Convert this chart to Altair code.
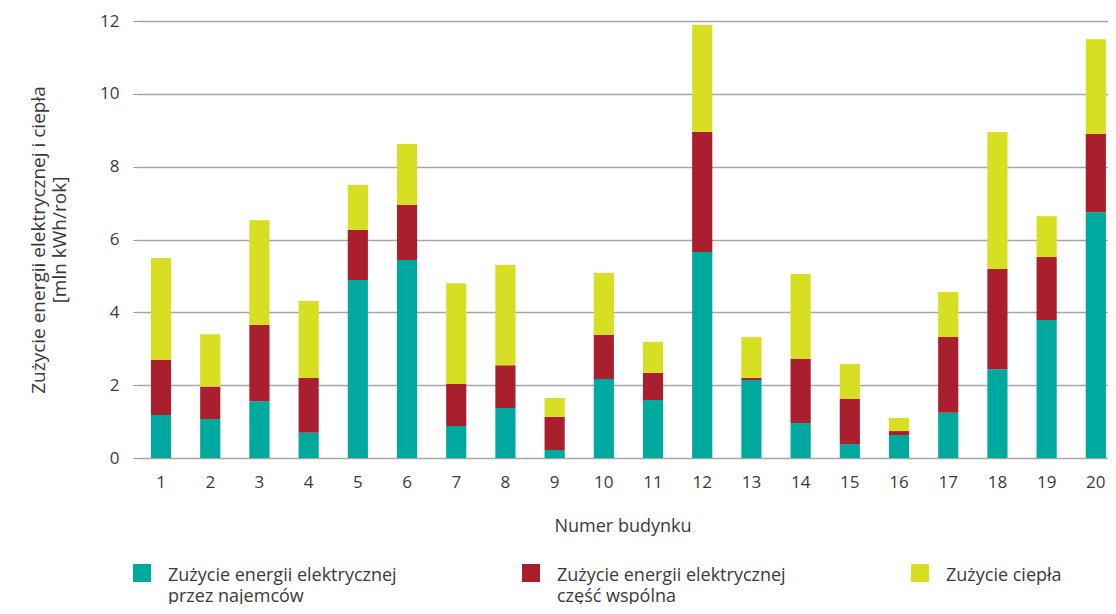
import altair as alt
import pandas as pd

buildings = list(range(1, 21))
tenants = [1.18, 1.07, 1.56, 0.69, 4.89, 5.44, 0.88, 1.37, 0.22, 2.17,
           1.59, 5.66, 2.14, 0.96, 0.38, 0.63, 1.24, 2.44, 3.79, 6.75]
common = [1.51, 0.89, 2.09, 1.51, 1.37, 1.51, 1.15, 1.18, 0.91, 1.21,
          0.75, 3.29, 0.06, 1.76, 1.24, 0.11, 2.08, 2.75, 1.73, 2.15]
heat = [2.80, 1.44, 2.88, 2.11, 1.24, 1.67, 2.77, 2.75, 0.52, 1.70,
        0.85, 2.94, 1.12, 2.33, 0.96, 0.36, 1.24, 3.76, 1.12, 2.60]

series = ["Zużycie energii elektrycznej|przez najemców",
          "Zużycie energii elektrycznej|część wspólna",
          "Zużycie ciepła| "]
colors = ["#00A99D", "#AA1F2E", "#D6DF22"]

rows = []
for i, b in enumerate(buildings):
    for k, vals in enumerate([tenants, common, heat]):
        rows.append({"budynek": b, "seria": series[k], "wartosc": vals[i], "kolejnosc": k})
df = pd.DataFrame(rows)

FONT = "Open Sans"
TXT = "#3a3a3a"
DY = 8

chart = alt.Chart(df).mark_bar().encode(
    x=alt.X("budynek:O",
            scale=alt.Scale(paddingInner=0.59, paddingOuter=0.163, align=0.87),
            axis=alt.Axis(title="Numer budynku", labelAngle=0, ticks=False,
                          domain=False, labelPadding=16 - DY, titlePadding=27)),
    y=alt.Y("wartosc:Q", stack="zero",
            scale=alt.Scale(domain=[0, 12], nice=False),
            axis=alt.Axis(title=["Zużycie energii elektrycznej i ciepła", "[mln kWh/rok]"],
                          values=[0, 2, 4, 6, 8, 10, 12], tickSize=4, tickColor="#999999",
                          domain=False, labelPadding=14, labelOffset=-DY, titlePadding=30,
                          titleFontSize=19)),
    color=alt.Color("seria:N",
                    scale=alt.Scale(domain=series, range=colors),
                    legend=alt.Legend(title=None, orient="none", legendX=-4, legendY=543,
                                      direction="horizontal", columns=3, gridAlign="all",
                                      columnPadding=125, symbolType="square", symbolSize=324,
                                      symbolStrokeWidth=0, labelFontSize=18, labelFont=FONT,
                                      labelColor=TXT, labelLimit=400, labelBaseline="alphabetic",
                                      labelOffset=17,
                                      labelExpr="split(datum.label, '|')")),
    order=alt.Order("kolejnosc:Q", sort="ascending"),
).properties(
    width=971, height=437,
    autosize=alt.AutoSizeParams(type="none"),
    padding={"left": 129, "top": 13, "right": 0, "bottom": 146},
).configure_view(stroke=None).configure_axis(
    labelFont=FONT, titleFont=FONT, labelFontSize=17, titleFontSize=18,
    labelColor=TXT, titleColor=TXT, titleFontWeight="normal",
    gridColor="#a6a6a6", gridWidth=1.3,
).configure_axisY(grid=True).configure_axisX(grid=False)

chart.config.style = {"guide-label": {"dy": DY, "lineHeight": 21}}

chart.save("out.html", embed_options={"renderer": "svg", "actions": False})
